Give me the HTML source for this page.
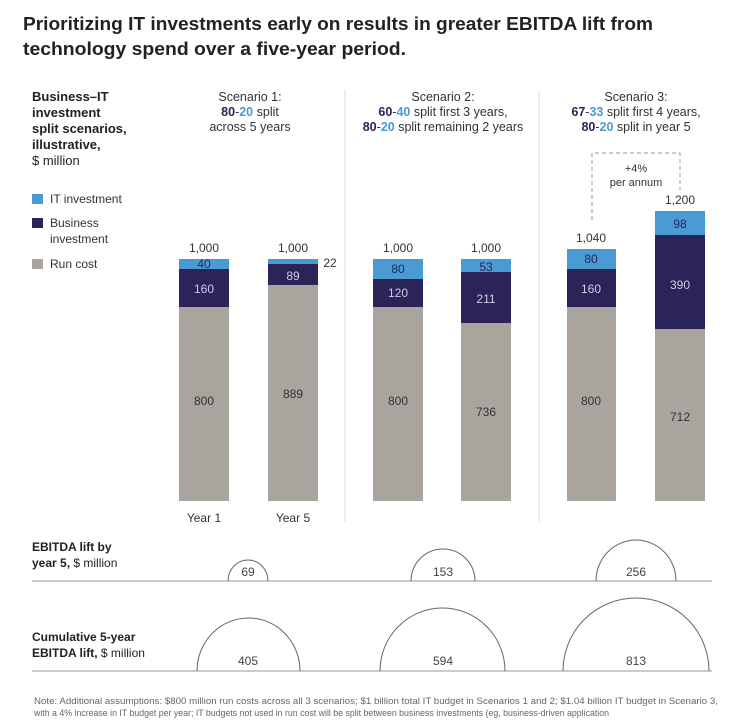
<!DOCTYPE html>
<html><head><meta charset="utf-8"><style>
body{margin:0;background:#fff;}
svg{display:block;font-family:"Liberation Sans",sans-serif;}
</style></head><body>
<svg width="730" height="720" viewBox="0 0 730 720">
<rect width="730" height="720" fill="#fff"/>
<text x="23" y="30" font-size="18" font-weight="bold" fill="#222" textLength="630" lengthAdjust="spacingAndGlyphs">Prioritizing IT investments early on results in greater EBITDA lift from</text>
<text x="23" y="55" font-size="18" font-weight="bold" fill="#222" textLength="383" lengthAdjust="spacingAndGlyphs">technology spend over a five-year period.</text>

<g font-size="13" fill="#222">
<text x="32" y="101" font-weight="bold">Business–IT</text>
<text x="32" y="117" font-weight="bold">investment</text>
<text x="32" y="133" font-weight="bold">split scenarios,</text>
<text x="32" y="149" font-weight="bold">illustrative,</text>
<text x="32" y="165">$ million</text>
</g>
<g font-size="12" fill="#333">
<rect x="32" y="194" width="11" height="10" fill="#4a9ad4"/><text x="50" y="203">IT investment</text>
<rect x="32" y="218" width="11" height="10" fill="#2a2458"/><text x="50" y="227">Business</text><text x="50" y="243">investment</text>
<rect x="32" y="259" width="11" height="10" fill="#aaa49f"/><text x="50" y="268">Run cost</text>
</g>

<g font-size="12.5" fill="#333" text-anchor="middle">
<text x="250" y="101">Scenario 1:</text>
<text x="250" y="116"><tspan font-weight="bold" fill="#2a2458">80</tspan>-<tspan font-weight="bold" fill="#4a9ad4">20</tspan> split</text>
<text x="250" y="131">across 5 years</text>
<text x="443" y="101">Scenario 2:</text>
<text x="443" y="116"><tspan font-weight="bold" fill="#2a2458">60</tspan>-<tspan font-weight="bold" fill="#4a9ad4">40</tspan> split first 3 years,</text>
<text x="443" y="131"><tspan font-weight="bold" fill="#2a2458">80</tspan>-<tspan font-weight="bold" fill="#4a9ad4">20</tspan> split remaining 2 years</text>
<text x="636" y="101">Scenario 3:</text>
<text x="636" y="116"><tspan font-weight="bold" fill="#2a2458">67</tspan>-<tspan font-weight="bold" fill="#4a9ad4">33</tspan> split first 4 years,</text>
<text x="636" y="131"><tspan font-weight="bold" fill="#2a2458">80</tspan>-<tspan font-weight="bold" fill="#4a9ad4">20</tspan> split in year 5</text>
</g>

<line x1="345" y1="90" x2="345" y2="522" stroke="#ddd" stroke-width="1"/>
<line x1="539" y1="90" x2="539" y2="522" stroke="#ddd" stroke-width="1"/>

<path d="M592 220 V153 H680 V190" fill="none" stroke="#999" stroke-dasharray="4,3"/>
<text x="636" y="172" font-size="11" fill="#333" text-anchor="middle">+4%</text>
<text x="636" y="186" font-size="11" fill="#333" text-anchor="middle">per annum</text>

<g>
<rect x="179" y="259" width="50" height="10" fill="#4a9ad4"/><rect x="179" y="269" width="50" height="38" fill="#2a2458"/><rect x="179" y="307" width="50" height="194" fill="#aaa49f"/>
<rect x="268" y="259" width="50" height="5" fill="#4a9ad4"/><rect x="268" y="264" width="50" height="21" fill="#2a2458"/><rect x="268" y="285" width="50" height="216" fill="#aaa49f"/>
<rect x="373" y="259" width="50" height="20" fill="#4a9ad4"/><rect x="373" y="279" width="50" height="28" fill="#2a2458"/><rect x="373" y="307" width="50" height="194" fill="#aaa49f"/>
<rect x="461" y="259" width="50" height="13" fill="#4a9ad4"/><rect x="461" y="272" width="50" height="51" fill="#2a2458"/><rect x="461" y="323" width="50" height="178" fill="#aaa49f"/>
<rect x="567" y="249" width="49" height="20" fill="#4a9ad4"/><rect x="567" y="269" width="49" height="38" fill="#2a2458"/><rect x="567" y="307" width="49" height="194" fill="#aaa49f"/>
<rect x="655" y="211" width="50" height="24" fill="#4a9ad4"/><rect x="655" y="235" width="50" height="94" fill="#2a2458"/><rect x="655" y="329" width="50" height="172" fill="#aaa49f"/>
</g>
<g font-size="12" text-anchor="middle">
<g fill="#333">
<text x="204" y="252">1,000</text><text x="293" y="252">1,000</text>
<text x="398" y="252">1,000</text><text x="486" y="252">1,000</text>
<text x="591" y="242">1,040</text><text x="680" y="204">1,200</text>
<text x="330" y="267">22</text>
<text x="204" y="405">800</text><text x="293" y="398">889</text>
<text x="398" y="405">800</text><text x="486" y="416">736</text>
<text x="591" y="405">800</text><text x="680" y="421">712</text>
<text x="204" y="522">Year 1</text><text x="293" y="522">Year 5</text>
</g>
<g fill="#2a2458">
<text x="204" y="268">40</text><text x="398" y="273">80</text><text x="486" y="271">53</text>
<text x="591" y="263">80</text><text x="680" y="228">98</text>
</g>
<g fill="#cfcde6">
<text x="204" y="293">160</text><text x="293" y="280">89</text>
<text x="398" y="297">120</text><text x="486" y="303">211</text>
<text x="591" y="293">160</text><text x="680" y="289">390</text>
</g>
</g>

<g font-size="12" fill="#222">
<text x="32" y="551" font-weight="bold">EBITDA lift by</text>
<text x="32" y="567"><tspan font-weight="bold">year 5,</tspan> $ million</text>
<text x="32" y="641" font-weight="bold">Cumulative 5-year</text>
<text x="32" y="657"><tspan font-weight="bold">EBITDA lift,</tspan> $ million</text>
</g>
<line x1="32" y1="581" x2="712" y2="581" stroke="#bbb" stroke-width="1.5"/>
<line x1="32" y1="671" x2="712" y2="671" stroke="#bbb" stroke-width="1.5"/>
<g fill="none" stroke="#666" stroke-width="1">
<path d="M228 581 A20 21 0 0 1 268 581"/>
<path d="M411 581 A32 32 0 0 1 475 581"/>
<path d="M596 581 A40 41 0 0 1 676 581"/>
<path d="M197 671 A51.5 53 0 0 1 300 671"/>
<path d="M380 671 A62.5 63 0 0 1 505 671"/>
<path d="M563 671 A73 73 0 0 1 709 671"/>
</g>
<g font-size="12" fill="#444" text-anchor="middle">
<text x="248" y="576">69</text><text x="443" y="576">153</text><text x="636" y="576">256</text>
<text x="248" y="665">405</text><text x="443" y="665">594</text><text x="636" y="665">813</text>
</g>

<g font-size="9" fill="#666">
<text x="34" y="704" textLength="684" lengthAdjust="spacingAndGlyphs">Note: Additional assumptions: $800 million run costs across all 3 scenarios; $1 billion total IT budget in Scenarios 1 and 2; $1.04 billion IT budget in Scenario 3,</text>
<text x="34" y="716" textLength="575" lengthAdjust="spacingAndGlyphs">with a 4% increase in IT budget per year; IT budgets not used in run cost will be split between business investments (eg, business-driven application</text>
</g>
</svg>
</body></html>
